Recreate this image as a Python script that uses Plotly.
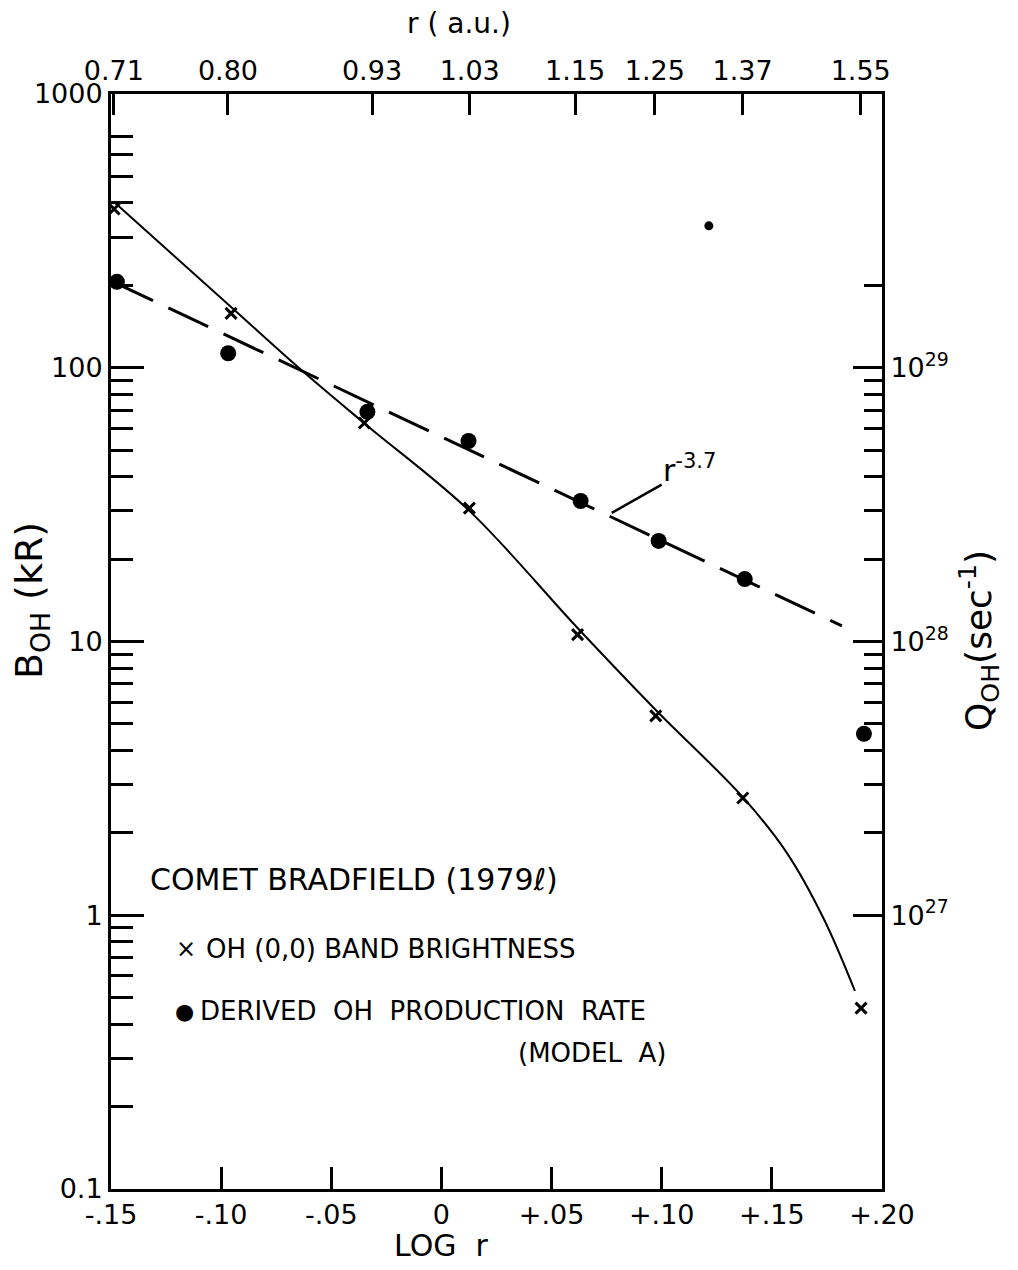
import math
import plotly.graph_objects as go

# ---- data ----
# OH (0,0) band brightness (kR), crosses
bright_logr = [-0.1486, -0.0955, -0.0350, 0.0127, 0.0618, 0.0973, 0.1368, 0.1905]
bright_kR = [380, 158, 62.8, 30.7, 10.6, 5.35, 2.68, 0.458]

# Derived OH production rate (sec^-1), dots
prod_logr = [-0.1473, -0.0968, -0.0336, 0.0123, 0.0632, 0.0986, 0.1377, 0.1918]
prod_Q = [2.06e29, 1.13e29, 6.9e28, 5.4e28, 3.26e28, 2.33e28, 1.69e28, 4.6e27]

# smooth curve through brightness points
curve_logr = [-0.1486, -0.0955, -0.0636, -0.0341, 0.0127, 0.0618, 0.0973, 0.1368,
              0.1568, 0.1736, 0.1877]
curve_kR = [403, 166.7, 98.1, 61.8, 30.0, 11.2, 5.62, 2.70, 1.69, 0.969, 0.529]

# r^-3.7 fit line (dashed)
fit_logr = [-0.149, 0.1818]
fit_Q = [2.06e29, 1.14e28]

# stray speck in the scan
speck_logr = [0.1214]
speck_Q = [3.3e29]

# tick labels
bottom_vals = [-0.15, -0.10, -0.05, 0, 0.05, 0.10, 0.15, 0.20]
bottom_text = ["-.15", "-.10", "-.05", "0", "+.05", "+.10", "+.15", "+.20"]
top_r = [0.71, 0.80, 0.93, 1.03, 1.15, 1.25, 1.37, 1.55]
top_text = ["0.71", "0.80", "0.93", "1.03", "1.15", "1.25", "1.37", "1.55"]
left_vals = [0.1, 1, 10, 100, 1000]
left_text = ["0.1", "1", "10", "100", "1000"]
right_vals = [1e27, 1e28, 1e29]
right_text = ["10<sup>27</sup>", "10<sup>28</sup>", "10<sup>29</sup>"]

top_vals = [math.log10(r) for r in top_r]
left_minor = [k * 10.0 ** e for e in range(-1, 3) for k in range(2, 10) if not (e == 2 and k > 7)]
right_minor = [k * 1e27 for k in range(2, 10)] + [k * 1e28 for k in range(2, 10)] + [2e29]

FONT = "DejaVu Sans"
BLACK = "black"

fig = go.Figure()

fig.add_trace(go.Scatter(x=curve_logr, y=curve_kR, mode="lines",
                         line=dict(color=BLACK, width=2, shape="spline", smoothing=1.0),
                         xaxis="x2", yaxis="y", showlegend=False, hoverinfo="skip"))
fig.add_trace(go.Scatter(x=bright_logr, y=bright_kR, mode="markers",
                         marker=dict(symbol="x-thin", size=11, line=dict(color=BLACK, width=3)),
                         xaxis="x", yaxis="y", showlegend=False))
fig.add_trace(go.Scatter(x=fit_logr, y=fit_Q, mode="lines",
                         line=dict(color=BLACK, width=3, dash="44px,17px"),
                         xaxis="x", yaxis="y2", showlegend=False, hoverinfo="skip"))
fig.add_trace(go.Scatter(x=prod_logr, y=prod_Q, mode="markers",
                         marker=dict(symbol="circle", size=16, color=BLACK),
                         xaxis="x", yaxis="y2", showlegend=False))
fig.add_trace(go.Scatter(x=speck_logr, y=speck_Q, mode="markers",
                         marker=dict(symbol="circle", size=9, color=BLACK),
                         xaxis="x", yaxis="y2", showlegend=False, hoverinfo="skip"))

axis_common = dict(showgrid=False, zeroline=False, showline=True, linecolor=BLACK,
                   linewidth=3, ticks="inside", tickcolor=BLACK, tickwidth=3,
                   tickfont=dict(family=FONT, size=27, color=BLACK))

fig.update_layout(
    width=1018, height=1270,
    margin=dict(l=103, r=144, t=86, b=89),
    paper_bgcolor="white", plot_bgcolor="white",
    font=dict(family=FONT, color=BLACK),
    xaxis=dict(range=[-0.15, 0.20], tickmode="array", tickvals=bottom_vals,
               ticktext=bottom_text, ticklen=22, **axis_common),
    xaxis2=dict(range=[-0.15, 0.20], overlaying="x", side="top", anchor="y",
                tickmode="array", tickvals=top_vals, ticktext=top_text,
                ticklen=21, **axis_common),
    yaxis=dict(type="log", range=[-1, 3], tickmode="array", tickvals=left_vals,
               ticktext=left_text, ticklen=33,
               minor=dict(tickmode="array", tickvals=left_minor, ticks="inside",
                          ticklen=22, tickwidth=3, tickcolor=BLACK, showgrid=False),
               **axis_common),
    yaxis2=dict(type="log", range=[26, 30], overlaying="y", side="right", anchor="x",
                tickmode="array", tickvals=right_vals, ticktext=right_text, ticklen=29,
                minor=dict(tickmode="array", tickvals=right_minor, ticks="inside",
                           ticklen=18, tickwidth=3, tickcolor=BLACK, showgrid=False),
                **axis_common),
)

def px2paper(px, py):
    return (px - 110) / 771.0, (1188 - py) / 1095.0

def txt_at(text, px, py, size, xanchor="left", angle=0):
    xp, yp = px2paper(px, py)
    return dict(text=text, xref="paper", yref="paper", x=xp, y=yp,
                xanchor=xanchor, yanchor="middle", textangle=angle, showarrow=False,
                font=dict(family=FONT, size=size, color=BLACK))

annots = [
    # axis titles
    txt_at("B<sub>OH</sub> (kR)", 30, 600, 38, xanchor="center", angle=-90),
    txt_at("Q<sub>OH</sub>(sec<sup>-1</sup>)", 978, 640, 36, xanchor="center", angle=-90),
    txt_at("LOG  r", 440, 1244, 30, xanchor="center"),
    txt_at("r ( a.u.)", 458, 22, 28, xanchor="center"),
    # in-plot legend text
    txt_at("COMET BRADFIELD (1979\u2113)", 147, 879, 30),
    txt_at("\u00d7", 185, 948, 24, xanchor="center"),
    txt_at("OH (0,0) BAND BRIGHTNESS", 203, 948, 26),
    txt_at("\u25cf", 183, 1010, 22, xanchor="center"),
    txt_at("DERIVED  OH  PRODUCTION  RATE", 197, 1010, 26),
    txt_at("(MODEL  A)", 515, 1052, 26),
]

# r^-3.7 label with leader
annots.append(dict(text="r<sup>-3.7</sup>", xref="x", yref="y2", x=0.0773,
                   y=math.log10(2.95e28), ax=78, ay=-44, showarrow=True,
                   arrowhead=0, arrowwidth=2.5, arrowcolor=BLACK, standoff=0,
                   font=dict(family=FONT, size=30, color=BLACK)))

fig.update_layout(annotations=annots)

fig.write_html("out.html")
